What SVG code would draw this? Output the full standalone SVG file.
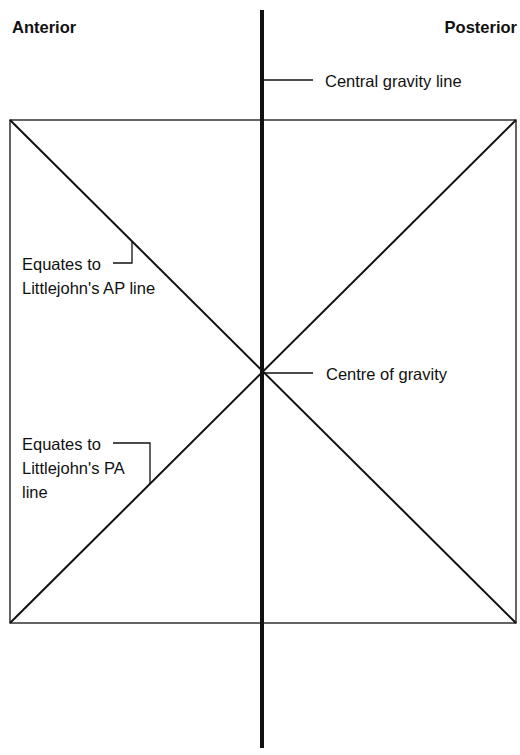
<svg xmlns="http://www.w3.org/2000/svg" width="520" height="755" viewBox="0 0 520 755">
<style>
text{font-family:"Liberation Sans",Arial,sans-serif;font-size:16.5px;fill:#111}
.b{font-weight:bold;font-size:16.5px}
.thin{stroke:#111;stroke-width:1.3;fill:none}
.diag{stroke:#111;stroke-width:2;fill:none}
</style>
<rect width="520" height="755" fill="#fff"/>
<g id="frame">
<rect x="10" y="120" width="506" height="503" class="thin" stroke-width="1.6"/>
<line x1="10" y1="120" x2="516" y2="623" class="diag"/>
<line x1="10" y1="623" x2="516" y2="120" class="diag"/>
</g>
<g id="gravity-line">
<line x1="262" y1="10" x2="262" y2="748" stroke="#111" stroke-width="4"/>
</g>
<g id="labels">
<text class="b" x="12" y="33">Anterior</text>
<text class="b" x="517" y="33" text-anchor="end">Posterior</text>
</g>
<g id="connectors">
<polyline points="262,80 313,80" class="thin"/>
<polyline points="262,373 313,373" class="thin"/>
<polyline points="113,263 132,263 132,242" class="thin"/>
<polyline points="113,443 150,443 150,484" class="thin"/>
</g>
<g id="central-label"><text x="325" y="87">Central gravity line</text></g>
<g id="cog-label"><text x="326" y="380">Centre of gravity</text></g>
<g id="ap-label"><text x="22" y="270">Equates to</text><text x="22" y="294">Littlejohn's AP line</text></g>
<g id="pa-label"><text x="22" y="450">Equates to</text><text x="22" y="474">Littlejohn's PA</text><text x="22" y="498">line</text></g>
</svg>
